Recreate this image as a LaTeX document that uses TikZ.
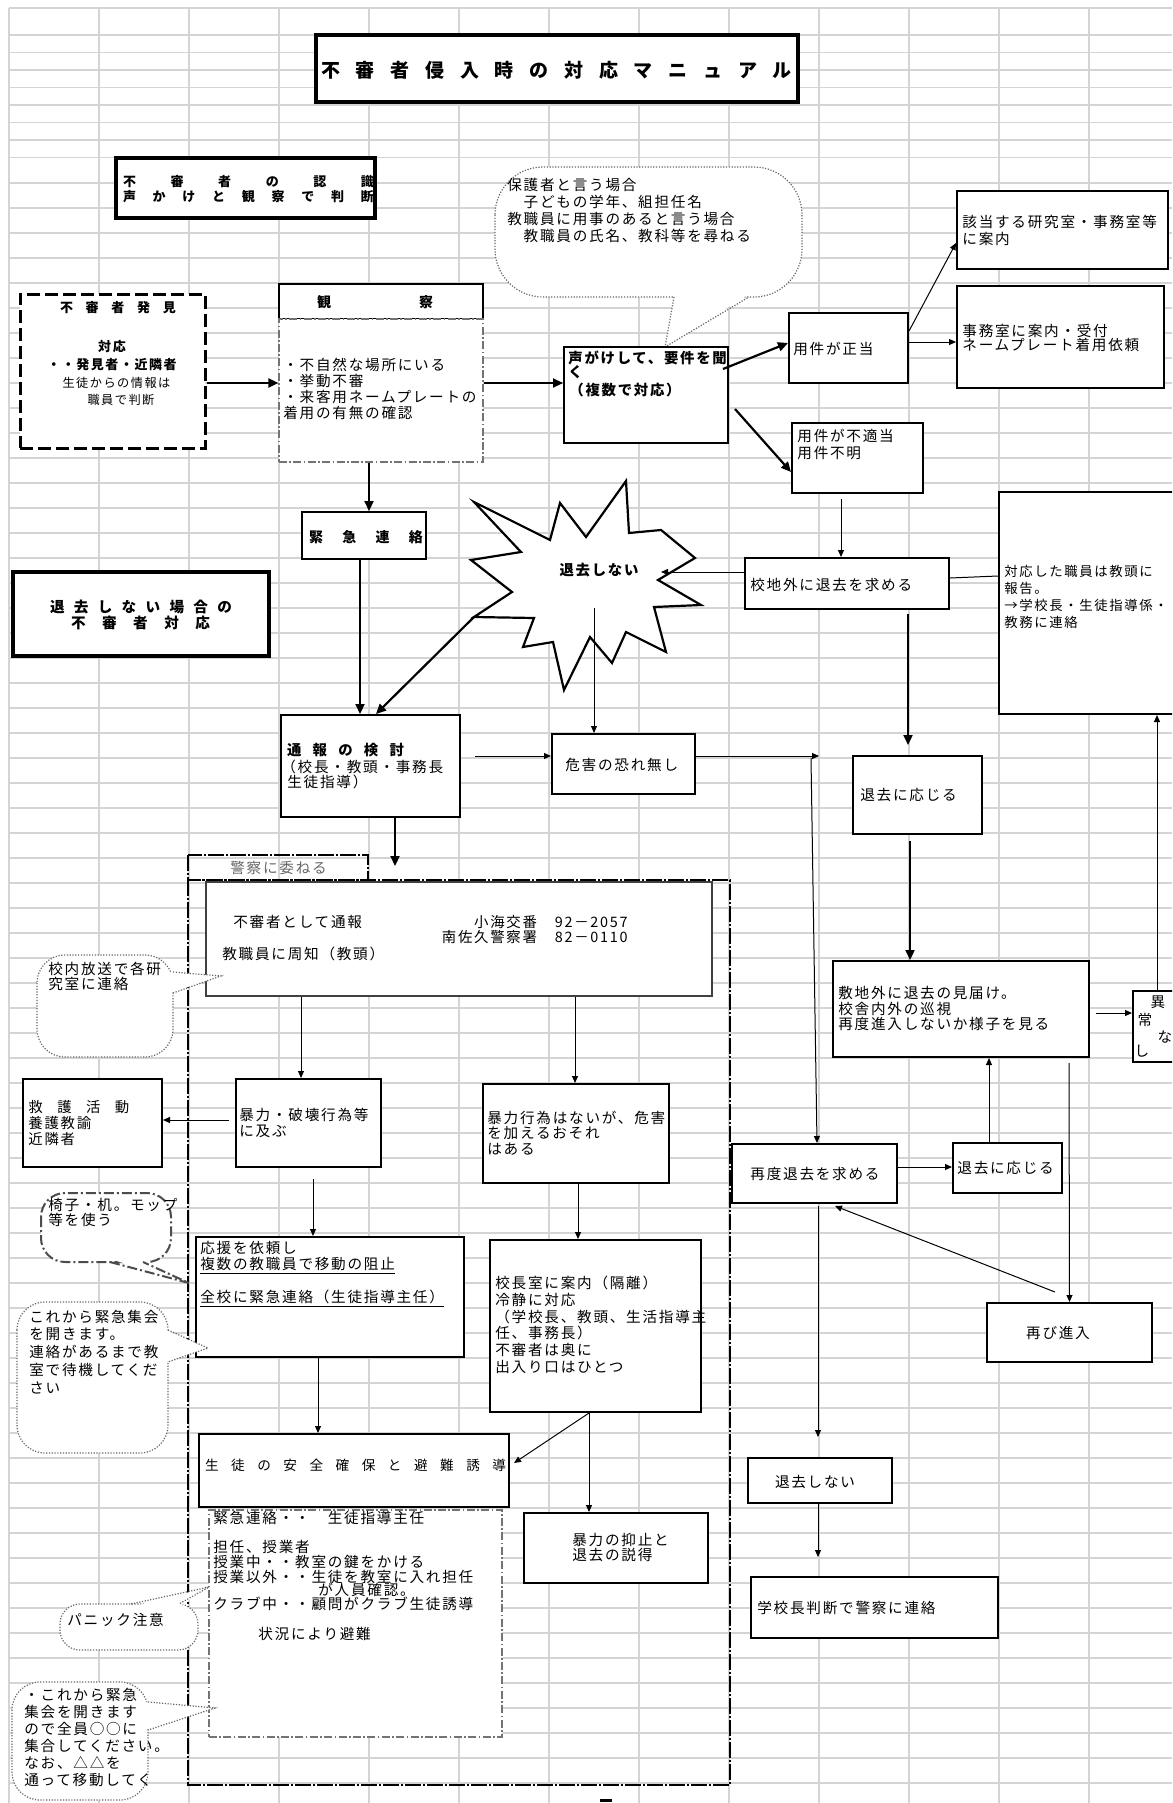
\documentclass[tikz,border=0pt]{standalone}
\usepackage{fontspec}
\setmainfont{Noto Sans CJK JP}[LetterSpace=12]
\usetikzlibrary{arrows.meta,fit,calc}

% font size helper: size and line spacing in pt
\newcommand\fsz[1]{\fontsize{#1}{#1}\selectfont}
% letter-spaced text stretched to a given width
\def\sprfirst#1{#1\sprrest}
\def\sprrest#1{\ifx\relax#1\else\hfill#1\expandafter\sprrest\fi}
\newcommand\spreadto[2]{\makebox[#1][s]{\sprfirst#2\relax}}
% stacked text lines: [options]{name}{x}{y of first line}{line step}{lines}
\newcommand\tlines[6][]{\foreach \tlitem [count=\tlidx] in {#6}{\node[txt,#1] (#2\tlidx) at (#3,{#4+(\tlidx-1)*#5}) {\tlitem};}}

\tikzset{
  grid/.style={draw=black!17, line width=0.6pt},
  bx/.style={draw=black, fill=white, line width=1pt, inner sep=0pt},
  bxthick/.style={bx, line width=1.7pt},
  txt/.style={inner sep=0pt, anchor=west, font=\fsz{7.3pt}},
  ctxt/.style={inner sep=0pt, font=\fsz{7.3pt}},
  conn/.style={draw=black, line width=0.5pt, -{Triangle[length=3.5pt,width=3pt]}},
  connthick/.style={draw=black, line width=1.1pt, -{Triangle[length=5pt,width=4.5pt]}},
  bubble/.style={draw=black!60, fill=white, line width=0.6pt, dash pattern=on 0.6pt off 0.8pt},
  bubbleline/.style={draw=black!60, line width=0.6pt, dash pattern=on 0.6pt off 0.8pt},
  bubbledd/.style={draw=black!70, line width=1pt, dash pattern=on 5pt off 1.5pt on 1pt off 1.5pt},
  dashdotbox/.style={bx, draw=black!55, line width=0.6pt, dash pattern=on 4pt off 1.2pt on 0.8pt off 1.2pt},
  policeframe/.style={draw=black, line width=1.4pt, dash pattern=on 8pt off 1pt on 1pt off 1pt},
}

\begin{document}
\begin{tikzpicture}[x=0.5pt, y=-0.5pt]
\useasboundingbox (0,0) rectangle (1172,1803);
\clip (0,0) rectangle (1172,1803);
\fill[white] (0,0) rectangle (1172,1803);

% sheet grid
\foreach \gx in {9,99,...,1089} \draw[grid] (\gx,8) -- (\gx,1803);
\foreach \gy in {8,35,52.5,70,87.5,105,122.5,140,157.5} \draw[grid] (9,\gy) -- (1172,\gy);
\foreach \gy in {183,208,...,1783} \draw[grid] (9,\gy) -- (1172,\gy);

% frame of the police section with its tab
\draw[policeframe] (188,880) rectangle (730,1785);
\draw[policeframe] (188,855) rectangle (368,880);
\node[txt, text=black!60] (keisatsu) at (230,868) {警察に委ねる};
\coordinate (tabin) at (395,866);

% title
\node[bxthick, fit={(316,35)(798,102)}] (title) {};
\node[inner sep=0pt, font=\fsz{9.5pt}\bfseries] (titletext) at (556.5,70) {\spreadto{235.5pt}{不審者侵入時の対応マニュアル}};

% recognising an intruder
\node[bxthick, fit={(116,158)(375,218)}] (ninshiki) {};
\node[inner sep=0pt, font=\fsz{6.5pt}\bfseries] (nin1) at (248.5,182) {\spreadto{125.5pt}{不審者の認識}};
\node[inner sep=0pt, font=\fsz{6.5pt}\bfseries] (nin2) at (248.5,197) {\spreadto{125.5pt}{声かけと観察で判断}};

% discovery
\node[bx, line width=1.5pt, dash pattern=on 6.5pt off 2.5pt, fit={(20,294)(205,448)}] (hakken) {};
\node[inner sep=0pt, font=\fsz{6.5pt}\bfseries] (hk1) at (118,308) {\spreadto{58pt}{不審者発見}};
\node[inner sep=0pt, font=\fsz{6.5pt}\bfseries] (hk2) at (112,347) {対応};
\node[inner sep=0pt, font=\fsz{6.5pt}\bfseries] (hk3) at (112,365) {・・発見者・近隣者};
\node[inner sep=0pt, font=\fsz{6.1pt}] (hk4) at (116.5,383) {生徒からの情報は};
\node[inner sep=0pt, font=\fsz{6.1pt}] (hk5) at (121,400) {職員で判断};

% observation
\node[bx, fit={(279,284)(483,319)}] (kanhead) {};
\node[inner sep=0pt, font=\fsz{7pt}\bfseries] (kanheadtext) at (375,302) {\spreadto{58pt}{観察}};
\node[dashdotbox, fit={(279,319)(483,462)}] (kanbody) {};
\tlines{kan}{283}{365}{16}{・不自然な場所にいる,・挙動不審,・来客用ネームプレートの,着用の有無の確認}

% emergency contact
\node[bx, fit={(302,512)(426,559)}] (kinkyu) {};
\node[inner sep=0pt, font=\fsz{7pt}\bfseries] (kinkyutext) at (366,537) {\spreadto{57pt}{緊急連絡}};

% case: intruder does not leave
\node[bxthick, fit={(13,572)(269,656)}] (baai) {};
\node[inner sep=0pt, font=\fsz{7.3pt}\bfseries] (baai1) at (141,607) {\spreadto{91pt}{退去しない場合の}};
\node[inner sep=0pt, font=\fsz{7.3pt}\bfseries] (baai2) at (140.5,623) {\spreadto{69.5pt}{不審者対応}};

% speech bubble about asking the visitor
\draw[bubble, rounded corners=24] (495,167) rectangle (802,297);
\fill[white] (674,294) -- (665,347) -- (749,294) -- cycle;
\draw[bubbleline] (674,297) -- (665,347) -- (749,297);
\tlines{bq}{507}{185}{17}{保護者と言う場合,　子どもの学年、組担任名,教職員に用事のあると言う場合,　教職員の氏名、教科等を尋ねる}

% speaking to the visitor
\node[bx, fit={(564,347)(728,443)}] (koegake) {};
\tlines[font=\fsz{7.2pt}\bfseries]{koe}{568}{358}{14}{声がけして、要件を聞,く}
\node[txt, font=\fsz{7.2pt}\bfseries] (koe3) at (569,390) {（複数で対応）};

% business is legitimate
\node[bx, fit={(789,313)(908,383)}] (seito) {};
\node[txt] (seitotext) at (793,349) {用件が正当};
\node[bx, fit={(957,191)(1168,269)}] (gaito) {};
\tlines{gt}{962}{222}{17}{該当する研究室・事務室等,に案内}
\node[bx, fit={(957,286)(1164,388)}] (jimu) {};
\tlines{jm}{962}{331}{14}{事務室に案内・受付,ネームプレート着用依頼}

% business is not legitimate
\node[bx, fit={(792,423)(923,493)}] (futekito) {};
\tlines{ft}{797}{436}{17}{用件が不適当,用件不明}
\node[bx, fit={(745,558)(949,609)}] (kochigai) {};
\node[txt] (kochigaitext) at (750,585) {校地外に退去を求める};
\node[bx, fit={(999,492)(1190,714)}] (taio) {};
\tlines[font=\fsz{6.7pt}]{ta}{1004}{571}{17}{対応した職員は教頭に,報告。,→学校長・生徒指導係・,教務に連絡}

% explosion: refuses to leave
\draw[draw=black, fill=white, line width=1.1pt] (474,502) -- (550,540) -- (560,503) -- (586,537) -- (626,481) -- (629,533) -- (661,530) -- (695,558) -- (658,580) -- (701,605) -- (654,607) -- (666,652) -- (626,632) -- (612,663) -- (590,637) -- (564,690) -- (553,642) -- (523,647) -- (534,618) -- (474,617) -- (512,592) -- (471,560) -- (521,552) -- cycle;
\node[inner sep=0pt, font=\fsz{7.2pt}\bfseries] (expltext) at (599,570) {退去しない};
\coordinate (explR) at (661,572);
\coordinate (explSW) at (474,617);
\coordinate (explS) at (594,608);

% deciding whether to report
\node[bx, fit={(281,715)(460,817)}] (kento) {};
\node[inner sep=0pt, font=\fsz{7.2pt}\bfseries] (kt1) at (345.5,750) {\spreadto{58.5pt}{通報の検討}};
\node[txt] (kt2) at (281,767) {（校長・教頭・事務長};
\node[txt] (kt3) at (287,782) {生徒指導）};

\node[bx, fit={(552,734)(695,794)}] (kigai) {};
\node[txt] (kigaitext) at (565,765) {危害の恐れ無し};
\coordinate (junc) at (819,756);
\coordinate (drop) at (811,758);

% leaving the premises
\node[bx, fit={(853,756)(982,834)}] (oujiru1) {};
\node[txt] (oujiru1text) at (860,795) {退去に応じる};
\node[bx, fit={(833,961)(1089,1057)}] (mitodoke) {};
\tlines{mt}{838}{993}{15.5}{敷地外に退去の見届け。,校舎内外の巡視,再度進入しないか様子を見る}
\node[bx, fit={(1133,991)(1190,1062)}] (ijo) {};
\node[ctxt] (ijo1) at (1158,1002) {異};
\node[ctxt] (ijo2) at (1145,1020) {常};
\node[ctxt] (ijo3) at (1165,1037) {な};
\node[ctxt] (ijo4) at (1142,1051) {し};

\node[bx, fit={(732,1144)(897,1203)}] (saido) {};
\node[ctxt] (saidotext) at (815,1174) {再度退去を求める};
\node[bx, fit={(953,1143)(1062,1193)}] (oujiru2) {};
\node[txt] (oujiru2text) at (957,1168) {退去に応じる};
\node[bx, fit={(987,1303)(1152,1362)}] (futatabi) {};
\node[ctxt] (futatabitext) at (1058,1333) {再び進入};
\node[bx, fit={(748,1458)(892,1503)}] (shinai) {};
\node[ctxt] (shinaitext) at (815,1482) {退去しない};
\node[bx, fit={(751,1577)(998,1638)}] (handan) {};
\node[txt] (handantext) at (757,1608) {学校長判断で警察に連絡};

% report to the police
\node[bx, draw=black!75, line width=1.3pt, fit={(206,882)(712,996)}] (tsuho) {};
\node[txt] (ts1) at (233,922) {不審者として通報};
\node[inner sep=0pt, anchor=east, align=right, font=\fontsize{7.2pt}{7.5pt}\selectfont] (ts2) at (628,930) {小海交番　92－2057\\南佐久警察署　82－0110};
\node[txt] (ts3) at (222,954) {教職員に周知（教頭）};

% bubble: in-school broadcast
\draw[bubble, rounded corners=14] (37,955) rectangle (173,1057);
\fill[white] (170,972) -- (221,976) -- (170,993) -- cycle;
\draw[bubbleline] (173,972) -- (221,976) -- (173,993);
\tlines{b2}{48}{969}{15}{校内放送で各研,究室に連絡}

% violence branch
\node[bx, fit={(236,1079)(381,1167)}] (boryoku) {};
\tlines{br}{239}{1115}{16}{暴力・破壊行為等,に及ぶ}
\node[bx, fit={(23,1079)(162,1167)}] (kyugo) {};
\node[txt, font=\fsz{7.2pt}] (kgh) at (28,1107) {\spreadto{50.5pt}{救護活動}};
\tlines[font=\fsz{7.2pt}]{kg}{28}{1123}{16}{養護教諭,近隣者}

\node[bx, fit={(483,1084)(669,1183)}] (nai) {};
\tlines{na}{487}{1118}{15.5}{暴力行為はないが、危害,を加えるおそれ,はある}

\node[bx, fit={(196,1237)(464,1357)}] (oen) {};
\node[txt] (oe1) at (200,1248) {応援を依頼し};
\node[txt] (oe2) at (200,1266) {\underline{複数の教職員で移動の阻止}};
\node[txt] (oe3) at (200,1299) {\underline{全校に緊急連絡（生徒指導主任）}};

\node[bx, fit={(490,1240)(701,1412)}] (kochoshitsu) {};
\tlines{ks}{495}{1283}{16.8}{校長室に案内（隔離）,冷静に対応,（学校長、教頭、生活指導主,任、事務長）,不審者は奥に,出入り口はひとつ}

% bubble: chairs and desks
\draw[bubbledd, fill=white, rounded corners=12] (41,1193) rectangle (171,1262);
\fill[white] (110,1259) -- (189,1283) -- (143,1259) -- cycle;
\draw[bubbledd] (110,1262) -- (189,1283) -- (143,1262);
\tlines{b3}{48}{1205}{15}{椅子・机。モップ,等を使う}

% bubble: announcement to stay in class
\draw[bubble, rounded corners=14] (17,1302) rectangle (168,1453);
\fill[white] (165,1330) -- (208,1348) -- (165,1362) -- cycle;
\draw[bubbleline] (168,1330) -- (208,1348) -- (168,1362);
\tlines{b4}{29}{1317}{17.7}{これから緊急集会,を開きます。,連絡があるまで教,室で待機してくだ,さい}

% student safety
\node[bx, fit={(199,1434)(509,1507)}] (anzen) {};
\node[inner sep=0pt, font=\fsz{6.8pt}] (anzentext) at (355.5,1465) {\spreadto{150.5pt}{生徒の安全確保と避難誘導}};
\node[bx, fit={(524,1513)(708,1583)}] (yokushi) {};
\tlines{yk}{572}{1540}{15}{暴力の抑止と,退去の説得}

\node[dashdotbox, fit={(209,1510)(502,1737)}] (shido) {};
\node[txt] (sd1) at (213,1518) {緊急連絡・・　生徒指導主任};
\tlines{sdl}{213}{1547}{15}{担任、授業者,授業中・・教室の鍵をかける,授業以外・・生徒を教室に入れ担任}
\node[txt] (sd2) at (318,1590) {が人員確認。};
\node[txt] (sd3) at (213,1604) {クラブ中・・顧問がクラブ生徒誘導};
\node[txt] (sd4) at (258,1634) {状況により避難};

% bubble: panic
\draw[bubble, rounded corners=10] (60,1604) rectangle (198,1650);
\fill[white] (131,1607) -- (209,1587) -- (179,1607) -- cycle;
\draw[bubbleline] (131,1604) -- (209,1587) -- (179,1604);
\node[txt] (panic) at (67,1620) {パニック注意};

% bubble: assembly announcement
\draw[bubble, rounded corners=14] (12,1682) rectangle (148,1800);
\fill[white] (145,1702) -- (215,1708) -- (145,1730) -- cycle;
\draw[bubbleline] (148,1702) -- (215,1708) -- (148,1730);
\tlines{b6}{24}{1695}{17}{・これから緊急,集会を開きます,ので全員○○に,集合してください。,なお、△△を,通って移動してく}

\draw[line width=1.5pt] (600,1800) -- (612,1800);

% connectors
\draw[connthick] ([yshift=-6pt]hakken.east) -- ([yshift=3.75pt]kanbody.west);
\draw[connthick] ([yshift=3.75pt]kanbody.east) -- ([yshift=6pt]koegake.west);
\draw[connthick] ([xshift=-6pt]kanbody.south) -- ([xshift=2.5pt]kinkyu.north);
\draw[connthick] ([xshift=-3pt,yshift=-11.5pt]koegake.north east) -- ([yshift=2.5pt]seito.west);
\draw[connthick] ([xshift=3pt,yshift=-31.5pt]koegake.north east) -- ([yshift=-7pt]futekito.west);
\draw[conn] ([yshift=-9.5pt]seito.north east) -- ([yshift=-6.5pt]gaito.west);
\draw[conn] ([yshift=3pt]seito.east) -- ([yshift=-2.5pt]jimu.west);
\draw[conn] ([xshift=-8.25pt,yshift=-2.5pt]futekito.south) -- ([xshift=-3pt]kochigai.north);
\draw[conn] ([yshift=5.75pt]kochigai.west) -- (explR);
\draw[draw=black, line width=0.5pt] ([yshift=2.75pt]kochigai.east) -- ([yshift=13.5pt]taio.west);
\draw[connthick] ([xshift=30.5pt,yshift=-2pt]kochigai.south) -- ([xshift=-4.75pt,yshift=5pt]oujiru1.north);
\draw[connthick] ([xshift=-2pt]kinkyu.south) -- ([xshift=-5.25pt]kento.north);
\draw[connthick] (explSW) -- ([xshift=2.75pt]kento.north);
\draw[conn] (explS) -- ([xshift=-14.75pt]kigai.north);
\draw[conn] ([xshift=7pt,yshift=5pt]kento.east) -- ([yshift=4pt]kigai.west);
\draw[conn] ([yshift=4pt]kigai.east) -- (junc);
\draw[conn] (drop) -- ([xshift=1.25pt]saido.north);
\draw[connthick] ([xshift=-3.75pt,yshift=-3pt]oujiru1.south) -- ([xshift=-25.5pt]mitodoke.north);
\draw[conn] ([xshift=3pt,yshift=-2pt]mitodoke.east) -- ([yshift=6.75pt]ijo.west);
\draw[conn] ([xshift=-2.25pt]ijo.north) -- ([xshift=31.25pt]taio.south);
\draw[conn] ([yshift=3.25pt]saido.east) -- ([yshift=0.5pt]oujiru2.west);
\draw[conn] ([xshift=-9.25pt]oujiru2.north) -- ([xshift=14pt]mitodoke.south);
\draw[conn] ([xshift=54pt,yshift=-2.5pt]mitodoke.south) -- (futatabi.north);
\draw[conn] ([xshift=-7.25pt,yshift=5pt]futatabi.north) -- ([xshift=10.25pt,yshift=-1pt]saido.south);
\draw[conn] ([xshift=1.75pt,yshift=-1pt]saido.south) -- ([xshift=-1pt,yshift=10pt]shinai.north);
\draw[conn] ([xshift=-1pt]shinai.south) -- ([xshift=-28.25pt,yshift=9.5pt]handan.north);
\draw[connthick] ([xshift=12.25pt]kento.south) -- (tabin);
\draw[conn] ([xshift=-79pt]tsuho.south) -- ([xshift=-3.75pt]boryoku.north);
\draw[conn] ([xshift=58pt]tsuho.south) -- ([xshift=-0.5pt]nai.north);
\draw[conn] ([xshift=-3pt,yshift=1.5pt]boryoku.west) -- ([yshift=1.5pt]kyugo.east);
\draw[conn] ([xshift=2.25pt,yshift=-5.5pt]boryoku.south) -- ([xshift=-8.5pt]oen.north);
\draw[conn] ([xshift=1pt]nai.south) -- ([xshift=-8.75pt]kochoshitsu.north);
\draw[conn] ([xshift=-6pt]oen.south) -- ([xshift=-18pt]anzen.north);
\draw[conn] ([xshift=-3.25pt]kochoshitsu.south) -- ([xshift=2pt,yshift=3.75pt]anzen.east);
\draw[conn] ([xshift=-3.25pt]kochoshitsu.south) -- ([xshift=-13.5pt]yokushi.north);
\end{tikzpicture}
\end{document}
